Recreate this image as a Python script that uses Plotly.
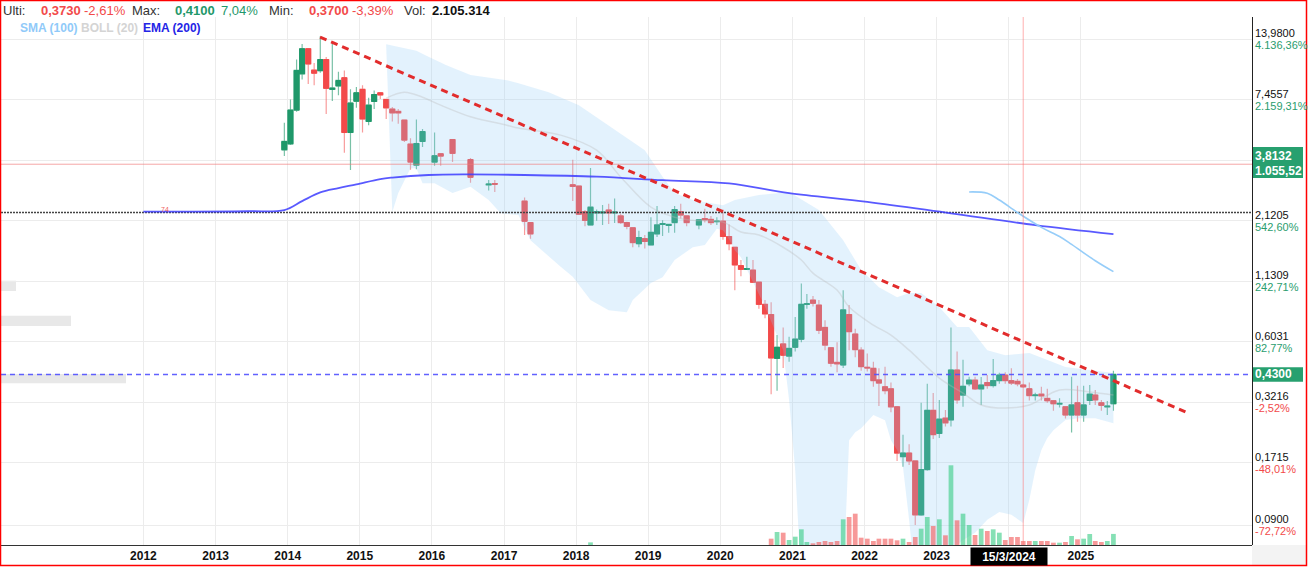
import numpy as np
import pandas as pd
import plotly.graph_objects as go

N = None
# ---------------- monthly candles, Dec 2013 .. Jun 2025 (None = no trade) ----------------
first_month = "2013-12-01"
opens = [
    4.43, 4.71, 6.69, 9.75, 12.65, 10.13, 10.07, 11.3, 8.3, 8.6,
    9.36, 5.3, 7.34, 8.3, 5.95, 7.32, 8.0, 7.47, 6.76, 6.6,
    6.03, 4.7, 3.78, 4.83, N, 3.9, 4.25, N, 4.93, N,
    N, 4.0, N, N, 3.08, 3.12, N, N, N, N,
    2.6, 2.08, N, N, N, N, N, N, 3.08, 3.04,
    2.33, 2.03, 2.3, 2.3, 2.37, 2.3, 2.23, 2.08, 1.97, 1.67,
    1.76, 1.65, 1.85, 2.04, 2.02, 2.08, 2.33, 2.23, N, 2.03,
    2.17, 2.15, 2.1, 2.11, 1.80, 1.61, 1.33, 1.28, 1.27, 1.12,
    0.89, 0.80, 0.508, 0.59, 0.52, 0.57, 0.62, 0.89, 0.93, 0.883,
    0.70, 0.567, 0.487, 0.474, 0.80, 0.654, 0.553, 0.463, 0.458, 0.406,
    0.378, 0.37, 0.307, 0.183, 0.19, 0.175, 0.10, 0.16, 0.296, 0.233,
    0.273, 0.268, 0.45, 0.347, 0.39, 0.405, 0.37, 0.395, 0.383, 0.403,
    0.427, 0.403, 0.40, 0.385, 0.37, 0.345, 0.35, 0.335, 0.327, 0.316,
    0.307, 0.282, 0.32, 0.282, 0.328, 0.347, 0.32, 0.307, 0.317,
]
highs = [
    5.86, 7.47, 11.3, 13.28, 12.7, 10.9, 14.4, 11.6, 13.45, 9.95,
    10.1, 8.3, 8.51, 8.67, 7.6, 8.2, 8.08, 7.5, 6.9, 6.76,
    6.05, 5.0, 6.07, 5.5, N, 5.3, 4.25, N, 4.95, N,
    N, 4.07, N, N, 3.24, 3.24, N, N, N, N,
    2.7, 2.08, N, N, N, N, N, N, 3.99, 3.06,
    2.37, 3.67, 2.38, 2.5, 2.53, 2.67, 2.28, 2.1, 1.97, 1.91,
    1.83, 2.2, 2.47, 2.13, 2.05, 2.47, 2.53, 2.23, N, 2.14,
    2.4, 2.23, 2.2, 2.38, 2.04, 1.61, 1.41, 1.46, 1.41, 1.12,
    0.93, 0.91, 0.647, 0.70, 0.636, 0.78, 1.105, 0.99, 0.97, 0.93,
    0.755, 0.57, 0.60, 1.03, 0.883, 0.69, 0.57, 0.534, 0.49, 0.458,
    0.466, 0.395, 0.31, 0.23, 0.208, 0.176, 0.32, 0.39, 0.354, 0.33,
    0.297, 0.70, 0.546, 0.50, 0.42, 0.42, 0.418, 0.427, 0.504, 0.437,
    0.44, 0.458, 0.41, 0.39, 0.395, 0.355, 0.378, 0.37, 0.327, 0.336,
    0.307, 0.42, 0.382, 0.382, 0.385, 0.366, 0.33, 0.326, 0.447,
]
lows = [
    4.15, 4.65, 6.57, 9.2, 8.78, 8.67, 9.85, 6.42, 7.35, 7.8,
    4.3, 3.59, 6.86, 5.3, 5.72, 6.77, 7.5, 6.1, 5.94, 5.8,
    4.8, 3.6, 3.62, 4.56, N, 3.75, 3.75, N, 3.9, N,
    N, 3.15, N, N, 2.9, 2.86, N, N, N, N,
    1.83, 1.76, N, N, N, N, N, N, 2.6, 2.25,
    2.0, 2.02, 2.12, 2.03, 2.05, 2.07, 2.05, 1.94, 1.61, 1.61,
    1.59, 1.64, 1.79, 1.81, 1.87, 1.87, 2.17, 2.0, N, 1.94,
    2.08, 2.03, 2.03, 1.74, 1.56, 1.03, 1.19, 1.27, 1.11, 0.85,
    0.77, 0.35, 0.363, 0.46, 0.49, 0.545, 0.60, 0.85, 0.87, 0.654,
    0.553, 0.466, 0.44, 0.46, 0.553, 0.514, 0.447, 0.443, 0.378, 0.31,
    0.35, 0.29, 0.175, 0.165, 0.168, 0.09, 0.099, 0.158, 0.22, 0.222,
    0.25, 0.25, 0.317, 0.307, 0.38, 0.366, 0.313, 0.37, 0.375, 0.39,
    0.39, 0.385, 0.38, 0.373, 0.328, 0.328, 0.328, 0.32, 0.295, 0.305,
    0.272, 0.235, 0.263, 0.263, 0.313, 0.313, 0.295, 0.282, 0.295,
]
closes = [
    4.83, 6.69, 10.1, 12.65, 10.8, 9.82, 11.3, 8.39, 8.4, 9.1,
    5.3, 7.2, 8.0, 6.1, 7.04, 7.86, 7.83, 6.85, 6.5, 6.5,
    4.9, 3.9, 4.73, 5.35, N, 4.16, 4.15, N, 4.27, N,
    N, 3.33, N, N, 3.1, 3.1, N, N, N, N,
    2.11, 1.85, N, N, N, N, N, N, 3.03, 2.27,
    2.13, 2.44, 2.33, 2.32, 2.3, 2.32, 2.08, 2.0, 1.69, 1.78,
    1.71, 1.88, 2.03, 2.06, 2.04, 2.38, 2.25, 2.08, N, 2.14,
    2.14, 2.08, 2.11, 1.80, 1.67, 1.34, 1.28, 1.29, 1.12, 0.89,
    0.806, 0.51, 0.57, 0.525, 0.563, 0.62, 0.89, 0.895, 0.90, 0.68,
    0.583, 0.483, 0.48, 0.84, 0.67, 0.556, 0.466, 0.46, 0.403, 0.393,
    0.363, 0.307, 0.19, 0.19, 0.175, 0.10, 0.16, 0.296, 0.23, 0.27,
    0.26, 0.45, 0.33, 0.38, 0.405, 0.37, 0.385, 0.383, 0.403, 0.427,
    0.403, 0.393, 0.39, 0.378, 0.345, 0.347, 0.344, 0.327, 0.317, 0.318,
    0.282, 0.313, 0.282, 0.313, 0.35, 0.33, 0.312, 0.309, 0.43,
]
# volume in millions of shares
volumes = [
    0, 0, 0, 0, 0, 0, 0, 0, 0, 0,
    0, 0, 0, 0, 0, 0, 0, 0, 0, 0,
    0, 0, 0, 0, N, 0, 0, N, 0, N,
    N, 0, N, N, 0, 0, N, N, N, N,
    0, 0, N, N, N, N, N, N, 0, 0,
    0, 0.5, 0, 0, 0, 0, 0, 0, 0, 0,
    0, 0, 0, 0, 0, 0, 0, 0, N, 0,
    0, 0, 0, 0, 0, 0, 0, 0, 0, 0,
    0, 1.2, 2.47, 2.34, 0.95, 1.58, 2.98, 0.57, 0.32, 0.57,
    0.76, 0.57, 0.76, 4.88, 5.32, 5.95, 1.39, 1.2, 0.76, 1.2,
    1.2, 1.2, 0.89, 1.2, 0.57, 1.52, 3.1, 5.32, 3.61, 4.88,
    1.84, 15.14, 4.69, 5.95, 3.8, 1.9, 3.1, 2.66, 2.98, 2.34,
    0.95, 1.52, 1.52, 0.76, 0.76, 0.76, 0.76, 0.76, 0.44, 0.44,
    0.57, 1.71, 1.08, 1.2, 2.09, 0.76, 0.57, 0.76, 2.105,
]

# ---------------- indicators ----------------
ema_dates = ["2012-01-01", "2013-06-15", "2013-12-15", "2014-03-15", "2014-06-15", "2014-09-15",
             "2014-12-15", "2015-04-15", "2015-06-15", "2015-12-15", "2016-06-15", "2017-04-15",
             "2018-04-15", "2019-03-15", "2020-02-15", "2020-12-15", "2022-01-15", "2023-03-15",
             "2024-05-15", "2025-06-15"]
ema_values = [2.33, 2.34, 2.37, 2.60, 2.845, 2.976, 3.095, 3.27, 3.32, 3.41, 3.43, 3.41,
              3.35, 3.23, 3.125, 2.825, 2.58, 2.29, 2.027, 1.845]

sma_dates = ["2023-06-15", "2023-09-15", "2023-11-15", "2024-02-15", "2024-06-15",
             "2024-09-15", "2024-11-15", "2025-03-15", "2025-06-15"]
sma_values = [2.86, 2.82, 2.63, 2.31, 1.98, 1.80, 1.66, 1.40, 1.25]

bb_upper_months = ["2015-05", "2015-07", "2015-10", "2015-12", "2016-03", "2016-07", "2017-01", "2017-03",
                   "2017-08", "2018-01", "2018-06", "2018-12", "2019-03", "2019-05", "2019-08", "2020-01",
                   "2020-03", "2020-07", "2020-12", "2021-05", "2021-09", "2021-12", "2022-03", "2022-06",
                   "2022-08", "2022-10", "2023-01", "2023-04", "2023-06", "2023-09", "2023-12", "2024-04",
                   "2024-10", "2025-06"]
bb_upper = [13.27, 12.9, 12.38, 11.63, 10.67, 9.62, 9.13, 8.85, 8.06, 7.04, 5.72, 4.41, 3.35, 2.825,
            2.63, 2.49, 2.63, 2.77, 2.855, 2.37, 1.73, 1.27, 1.064, 0.959, 1.0, 1.0, 0.865, 0.703,
            0.703, 0.553, 0.525, 0.537, 0.464, 0.436]
bb_mid_months = ["2015-05", "2015-08", "2015-11", "2016-02", "2016-07", "2017-01", "2017-03", "2017-10",
                 "2018-04", "2018-08", "2019-01", "2019-05", "2019-08", "2020-01", "2020-04", "2020-07",
                 "2020-11", "2021-02", "2021-04", "2021-08", "2021-10", "2022-02", "2022-05", "2022-08",
                 "2023-01", "2023-05", "2023-08", "2023-12", "2024-04", "2024-09", "2025-02", "2025-06"]
bb_mid = [7.58, 8.06, 7.65, 7.04, 6.24, 5.72, 5.55, 5.16, 4.41, 3.34, 2.44, 2.2, 2.13, 2.09, 1.885,
          1.83, 1.61, 1.41, 1.23, 1.032, 0.865, 0.717, 0.647, 0.553, 0.414, 0.354, 0.313, 0.303,
          0.313, 0.366, 0.358, 0.347]
bb_lower_months = ["2015-05", "2015-06", "2015-07", "2015-09", "2015-10", "2015-11", "2016-01", "2016-04",
                   "2016-07", "2016-10", "2016-12", "2017-03", "2017-05", "2017-10", "2017-12", "2018-03",
                   "2018-06", "2018-09", "2018-10", "2019-01", "2019-03", "2019-05", "2019-08", "2019-10",
                   "2019-12", "2020-01", "2020-02", "2020-03", "2020-04", "2020-08", "2020-11", "2020-12",
                   "2021-01", "2021-02", "2021-09", "2021-10", "2021-11", "2021-12", "2022-02", "2022-04",
                   "2022-05", "2022-06", "2022-07", "2022-08", "2022-09", "2023-03", "2023-04", "2023-05",
                   "2023-07", "2023-09", "2023-11", "2024-01", "2024-03", "2024-04", "2024-05", "2024-06",
                   "2024-07", "2024-08", "2024-10", "2024-12", "2025-03", "2025-06"]
bb_lower = [12.9, 2.32, 2.825, 3.66, 3.66, 3.13, 3.13, 2.825, 3.02, 2.63, 2.29, 2.25, 1.73, 1.314,
            1.185, 0.93, 0.838, 0.82, 0.93, 1.11, 1.18, 1.41, 1.61, 1.65, 1.95, 1.92, 1.75, 1.56,
            1.45, 0.867, 0.553, 0.33, 0.159, 0.05, 0.05, 0.217, 0.236, 0.246, 0.282, 0.267, 0.217,
            0.196, 0.164, 0.095, 0.05, 0.05, 0.073, 0.077, 0.083, 0.095, 0.103, 0.10, 0.092, 0.117,
            0.159, 0.196, 0.222, 0.241, 0.268, 0.273, 0.273, 0.259]

trend_dates = ["2014-06-14", "2026-06-28"]
trend_prices = [14.27, 0.288]

level_pink = 3.8132
level_dotted = 2.31
level_blue = 0.43
marker_date = "2024-03-15"

grid_prices = [13.98, 7.4557, 3.977, 2.1205, 1.1309, 0.6031, 0.3216, 0.1715, 0.09]
axis_prices = [13.98, 7.4557, 2.1205, 1.1309, 0.6031, 0.3216, 0.1715, 0.09]
axis_price_text = ["13,9800", "7,4557", "2,1205", "1,1309", "0,6031", "0,3216", "0,1715", "0,0900"]
axis_pct_text = ["4.136,36%", "2.159,31%", "542,60%", "242,71%", "82,77%", "-2,52%", "-48,01%", "-72,72%"]
years = list(range(2012, 2026))

# ---------------- geometry helpers ----------------
W, H = 1308, 567
ML, MR, MT, MB = 1, 56, 17, 22
PW, PH = W - ML - MR, H - MT - MB


def px2x(px):
    return (px - ML) / PW


def py2y(py):
    return (H - MB - py) / PH


X_RANGE = ["2010-01-09 14:00", "2027-05-18"]
Y_RANGE = [np.log10(0.07312), np.log10(17.59)]
VOL_TOP = 100.3

GREEN = "#1f986a"
RED = "#f24a4a"

months = pd.date_range(first_month, periods=len(opens), freq="MS") + pd.Timedelta(days=14)
o = np.array(opens, dtype=float)
h = np.array(highs, dtype=float)
l = np.array(lows, dtype=float)
c = np.array(closes, dtype=float)
body_hi = np.fmax(o, c)
body_lo = np.fmin(o, c)
up = c >= o


def mid15(ms):
    return [m + "-15" for m in ms]


fig = go.Figure()

# Bollinger band fill
fig.add_trace(go.Scatter(
    x=mid15(bb_upper_months) + mid15(bb_lower_months)[::-1],
    y=bb_upper + bb_lower[::-1],
    fill="toself", fillcolor="rgba(144,202,249,0.25)", line=dict(width=0),
    mode="lines", hoverinfo="skip"))
fig.add_trace(go.Scatter(x=mid15(bb_mid_months), y=bb_mid, mode="lines",
                         line=dict(color="rgba(185,185,185,0.35)", width=1.5, shape="spline"),
                         hoverinfo="skip"))

# volume
vol_colors = ["rgba(60,205,135,0.62)" if u else "rgba(242,90,90,0.62)" for u in up]
fig.add_trace(go.Bar(x=months, y=volumes, marker=dict(color=vol_colors, line=dict(width=0)),
                     width=24 * 86400000, yaxis="y2", hoverinfo="skip"))

# horizontal levels
fig.add_trace(go.Scatter(x=X_RANGE, y=[level_pink, level_pink], mode="lines",
                         line=dict(color="rgba(240,120,120,0.65)", width=1), hoverinfo="skip"))
fig.add_trace(go.Scatter(x=X_RANGE, y=[level_dotted, level_dotted], mode="lines",
                         line=dict(color="#444444", width=1.5, dash="2px,1px"), hoverinfo="skip"))
fig.add_trace(go.Scatter(x=X_RANGE, y=[level_blue, level_blue], mode="lines",
                         line=dict(color="rgba(80,80,255,0.9)", width=1.5, dash="5px,4px"),
                         hoverinfo="skip"))

# EMA / SMA
fig.add_trace(go.Scatter(x=ema_dates, y=ema_values, mode="lines",
                         line=dict(color="rgba(60,60,255,0.85)", width=1.8, shape="spline"),
                         hoverinfo="skip"))
fig.add_trace(go.Scatter(x=sma_dates, y=sma_values, mode="lines",
                         line=dict(color="rgba(144,202,249,0.95)", width=1.6, shape="spline"),
                         hoverinfo="skip"))

# candles: wicks (light) + bodies (solid)
fig.add_trace(go.Candlestick(
    x=months, open=o, high=h, low=l, close=c,
    increasing=dict(line=dict(color="rgba(31,152,106,0.6)", width=1.2), fillcolor=GREEN),
    decreasing=dict(line=dict(color="rgba(242,74,74,0.55)", width=1.2), fillcolor=RED),
    hoverinfo="skip"))
fig.add_trace(go.Candlestick(
    x=months, open=o, high=body_hi, low=body_lo, close=c,
    increasing=dict(line=dict(color=GREEN, width=1), fillcolor=GREEN),
    decreasing=dict(line=dict(color=RED, width=1), fillcolor=RED),
    hoverinfo="skip"))

# trend line
fig.add_trace(go.Scatter(x=trend_dates, y=trend_prices, mode="lines",
                         line=dict(color="#e22c2c", width=3, dash="7px,5px"), hoverinfo="skip"))

ann = []
# right axis labels
for p, t, pc in zip(axis_prices, axis_price_text, axis_pct_text):
    ann.append(dict(xref="paper", yref="y", x=px2x(1253), y=np.log10(p), yshift=6,
                    text=t, showarrow=False, xanchor="left", yanchor="middle",
                    font=dict(size=11, color="#111111")))
    ann.append(dict(xref="paper", yref="y", x=px2x(1253), y=np.log10(p), yshift=-6,
                    text=pc, showarrow=False, xanchor="left", yanchor="middle",
                    font=dict(size=11, color=RED if pc.startswith("-") else "#2a9d6e")))
# boxed labels
ann.append(dict(xref="paper", yref="paper", x=px2x(1253), y=py2y(155.5), text="<b>3,8132</b>",
                showarrow=False, xanchor="left", yanchor="middle", font=dict(size=12, color="white")))
ann.append(dict(xref="paper", yref="paper", x=px2x(1253), y=py2y(170.5), text="<b>1.055,52</b>",
                showarrow=False, xanchor="left", yanchor="middle", font=dict(size=12, color="white")))
ann.append(dict(xref="paper", yref="y", x=px2x(1253), y=np.log10(level_blue), text="<b>0,4300</b>",
                showarrow=False, xanchor="left", yanchor="middle", font=dict(size=12, color="white")))
# date box on x axis
ann.append(dict(xref="x", yref="paper", x="2024-01-01", y=py2y(556), text="<b>15/3/2024</b>",
                showarrow=False, xanchor="center", yanchor="middle", bgcolor="black",
                width=70, height=11, borderpad=3, font=dict(size=12, color="white")))
# header
header = [(3, "Ulti:", "#333333", False), (41, "0,3730", RED, True), (84, "-2,61%", RED, False),
          (132, "Max:", "#333333", False), (175, "0,4100", GREEN, True), (221, "7,04%", GREEN, False),
          (269, "Min:", "#333333", False), (309, "0,3700", RED, True), (352, "-3,39%", RED, False),
          (404, "Vol:", "#333333", False), (432, "2.105.314", "#111111", True)]
for px, t, col, b in header:
    ann.append(dict(xref="paper", yref="paper", x=px2x(px - 2), y=py2y(10),
                    text=f"<b>{t}</b>" if b else t, showarrow=False, xanchor="left",
                    yanchor="middle", font=dict(size=13, color=col)))
legend = [(20, "SMA (100)", "#90caf9"), (81, "BOLL (20)", "#d4d4d4"), (143, "EMA (200)", "#2424e6")]
for px, t, col in legend:
    ann.append(dict(xref="paper", yref="paper", x=px2x(px - 2), y=py2y(27.7), text=f"<b>{t}</b>",
                    showarrow=False, xanchor="left", yanchor="middle", font=dict(size=12, color=col)))
ann.append(dict(xref="paper", yref="paper", x=px2x(159), y=py2y(209), text="74", showarrow=False,
                xanchor="left", yanchor="middle", font=dict(size=7, color="#f06060")))

shapes = [
    # vertical date marker
    dict(type="line", xref="x", yref="paper", x0=marker_date, x1=marker_date, y0=0, y1=1,
         line=dict(color="rgba(255,110,110,0.55)", width=1), layer="above"),
    # boxed value labels
    dict(type="rect", xref="paper", yref="paper", x0=px2x(1253), x1=px2x(1303),
         y0=py2y(178), y1=py2y(147), fillcolor="#27a06f", line=dict(width=0), layer="above"),
    dict(type="rect", xref="paper", yref="paper", x0=px2x(1253), x1=px2x(1303),
         y0=py2y(381.7), y1=py2y(367.3), fillcolor="#27a06f", line=dict(width=0), layer="above"),
    # grey placeholders on the left
    dict(type="rect", xref="paper", yref="paper", x0=0, x1=px2x(16), y0=py2y(291), y1=py2y(280.7),
         fillcolor="#e8e8e8", line=dict(width=0), layer="between"),
    dict(type="rect", xref="paper", yref="paper", x0=0, x1=px2x(71), y0=py2y(326), y1=py2y(315.7),
         fillcolor="#e8e8e8", line=dict(width=0), layer="between"),
    dict(type="rect", xref="paper", yref="paper", x0=0, x1=px2x(126), y0=py2y(383.3), y1=py2y(374),
         fillcolor="#e8e8e8", line=dict(width=0), layer="between"),
    # corner
    dict(type="rect", xref="paper", yref="paper", x0=1, x1=px2x(1306), y0=py2y(565), y1=0,
         fillcolor="#f3f3f3", line=dict(width=0), layer="above"),
    # red frame
    dict(type="rect", xref="paper", yref="paper", x0=px2x(0.5), x1=px2x(1306.5),
         y0=py2y(565.5), y1=py2y(0.5), line=dict(color="#ff0000", width=1.5),
         fillcolor="rgba(0,0,0,0)", layer="above"),
]

fig.update_layout(
    width=W, height=H, margin=dict(l=ML, r=MR, t=MT, b=MB),
    paper_bgcolor="white", plot_bgcolor="white", showlegend=False,
    font=dict(family="Liberation Sans, Arial, sans-serif"),
    boxgap=0.1, boxgroupgap=0.0,
    xaxis=dict(type="date", range=X_RANGE, tickvals=[f"{y}-01-01" for y in years],
               ticktext=["" if y == 2024 else str(y) for y in years],
               showgrid=True, gridcolor="#ececec", gridwidth=1, zeroline=False,
               showline=True, linecolor="#333333", linewidth=1, ticks="",
               tickfont=dict(size=12, color="#111111", weight="bold"),
               rangeslider=dict(visible=False), fixedrange=True),
    yaxis=dict(type="log", range=Y_RANGE, side="right", tickvals=grid_prices,
               showticklabels=False, showgrid=True, gridcolor="#ececec", zeroline=False,
               showline=True, linecolor="#222222", linewidth=1, ticks="", fixedrange=True),
    yaxis2=dict(overlaying="y", range=[0, VOL_TOP], visible=False, fixedrange=True),
    annotations=ann, shapes=shapes,
)

fig.write_html("out.html")
